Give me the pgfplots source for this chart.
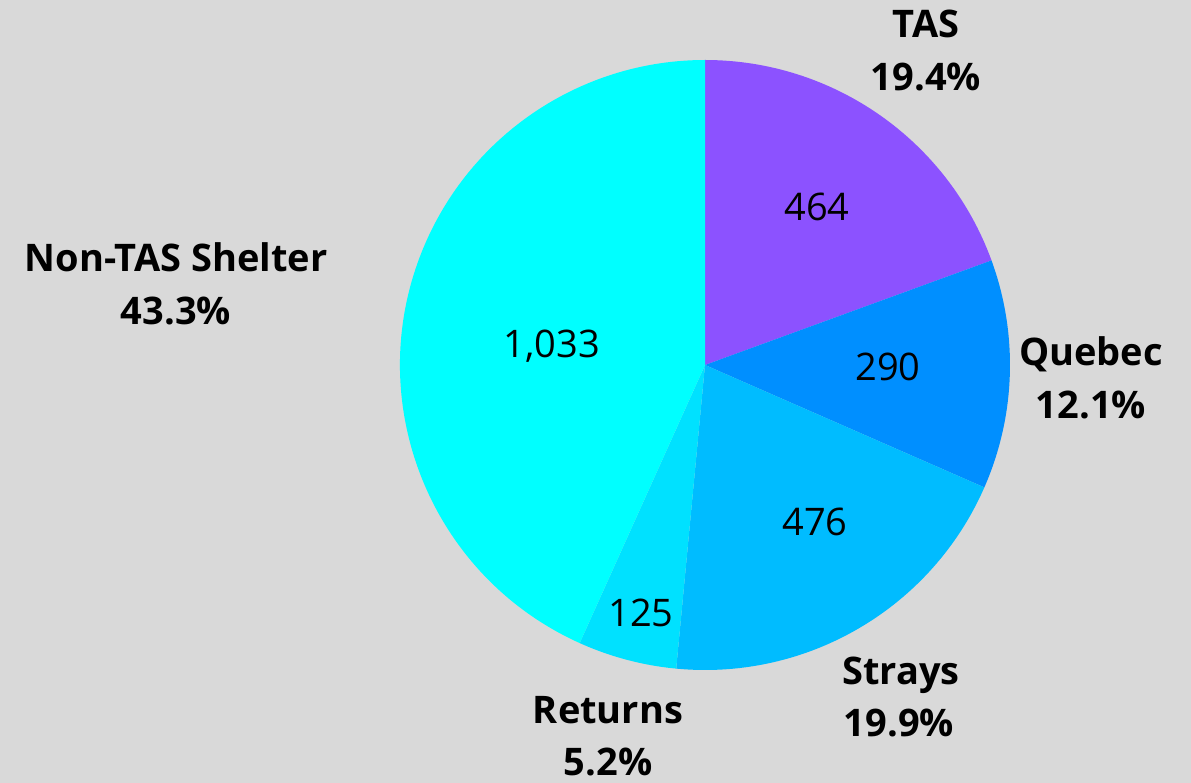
\documentclass[border=0pt]{standalone}
\usepackage{pgfplots}
\pgfplotsset{compat=1.18}
\usepackage{fontspec}
\setmainfont{Open Sans}
\definecolor{bg}{HTML}{D9D9D9}
\definecolor{cTAS}{HTML}{8C52FF}
\definecolor{cQue}{HTML}{008FFF}
\definecolor{cStr}{HTML}{00BCFF}
\definecolor{cRet}{HTML}{00E1FF}
\definecolor{cNon}{HTML}{00FFFF}
% data (counts)
\def\vA{464}\def\vB{290}\def\vC{476}\def\vD{125}\def\vE{1033}
\pgfmathsetmacro\total{\vA+\vB+\vC+\vD+\vE}
\pgfmathsetmacro\tA{90}
\pgfmathsetmacro\tB{\tA-360*(\vA/\total)}
\pgfmathsetmacro\tC{\tB-360*(\vB/\total)}
\pgfmathsetmacro\tD{\tC-360*(\vC/\total)}
\pgfmathsetmacro\tE{\tD-360*(\vD/\total)}
\pgfmathsetmacro\tF{-270}
\def\R{152.5pt}
\newcommand{\slice}[3]{\fill[#3] (axis cs:705,418) -- ++(#1:\R) arc[start angle=#1, end angle=#2, radius=\R] -- cycle;}
\tikzset{val/.style={anchor=base,inner sep=0pt,font=\fontsize{19}{23}\selectfont},
         lab/.style={anchor=base,inner sep=0pt,font=\fontsize{19}{23}\selectfont\bfseries}}
\begin{document}
\begin{tikzpicture}
\begin{axis}[width=595.5pt,height=391.5pt,scale only axis,
  xmin=0,xmax=1191,ymin=0,ymax=783,hide axis,clip=false]
\fill[bg] (axis cs:0,0) rectangle (axis cs:1191,783);
\slice{\tA}{\tB}{cTAS}
\slice{\tB}{\tC}{cQue}
\slice{\tC}{\tD}{cStr}
\slice{\tD}{\tE}{cRet}
\slice{\tE}{\tF}{cNon}
% inner values
\node[val] at (axis cs:817,562) {464};
\node[val] at (axis cs:888,402) {290};
\node[val] at (axis cs:815,247) {476};
\node[val] at (axis cs:641,156) {125};
\node[val] at (axis cs:552,425) {1,033};
% outer labels
\node[lab] at (axis cs:926,745) {TAS};
\node[lab] at (axis cs:926,692) {19.4\%};
\node[lab] at (axis cs:1091,417) {Quebec};
\node[lab] at (axis cs:1091,364) {12.1\%};
\node[lab] at (axis cs:901,98) {Strays};
\node[lab] at (axis cs:899,46) {19.9\%};
\node[lab] at (axis cs:608,59) {Returns};
\node[lab] at (axis cs:608,7) {5.2\%};
\node[lab] at (axis cs:176,511) {Non-TAS Shelter};
\node[lab] at (axis cs:176,458) {43.3\%};
\end{axis}
\pgfresetboundingbox
\path[use as bounding box] (current axis.south west) rectangle (current axis.north east);
\end{tikzpicture}
\end{document}
